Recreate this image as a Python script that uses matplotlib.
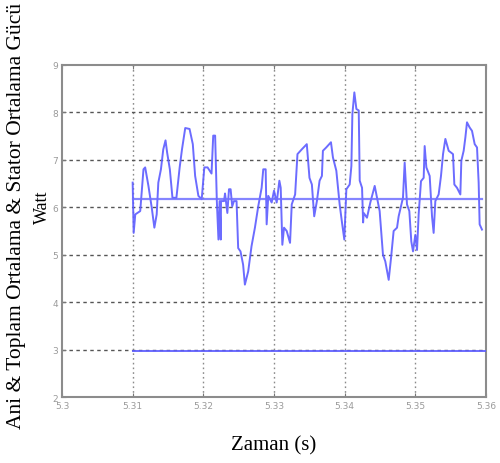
import matplotlib
matplotlib.use("Agg")
import matplotlib.pyplot as plt
import numpy as np

# time offsets in ms after 5.31 s
t_ms = [0, 0.14, 0.37, 1.07, 1.53, 1.77, 2.23, 2.70, 3.07, 3.40, 3.63, 4.0, 4.33, 4.65, 4.88,
        5.26, 5.63, 6.19, 6.65, 6.98, 7.44, 8.05, 8.51, 8.84, 9.30, 9.77, 10.14, 10.60, 11.16,
        11.40, 11.67, 11.91, 12.14, 12.30, 12.47, 12.50, 12.93, 13.07, 13.40, 13.63, 13.86, 14.09,
        14.33, 14.70, 14.93, 15.26, 15.63, 15.88, 16.35, 16.82, 17.30, 17.77, 18.25, 18.48,
        18.82, 18.96, 19.19, 19.67, 20.0, 20.38, 20.76, 20.95, 21.18, 21.42, 21.80, 22.27,
        22.51, 22.99, 23.32, 23.93, 24.64, 25.02, 25.36, 25.69, 26.07, 26.45, 26.78, 26.92,
        27.39, 28.06, 28.34, 28.82, 29.29, 29.62, 29.95, 30.24, 30.71, 30.95, 31.09, 31.37,
        31.66, 31.99, 32.13, 32.46, 32.61, 32.69, 33.16, 33.63, 34.25, 34.58, 34.95, 35.42,
        35.75, 36.23, 36.56, 36.93, 37.41, 37.64, 37.97, 38.25, 38.49, 38.82, 39.15, 39.43,
        39.67, 40.0, 40.24, 40.47, 40.80, 41.18, 41.32, 41.56, 42.03, 42.36, 42.59, 42.83,
        43.30, 43.63, 43.92, 44.25, 44.72, 45.33, 45.52, 45.90, 46.37, 46.51, 46.84, 47.08,
        47.31, 47.69, 48.02, 48.40, 48.73, 48.96, 49.10, 49.43]
power = [6.52, 5.46, 5.85, 5.92, 6.80, 6.84, 6.45, 5.99, 5.57, 5.85, 6.52, 6.80, 7.22, 7.41, 7.15,
         6.80, 6.20, 6.20, 6.84, 7.22, 7.67, 7.65, 7.33, 6.66, 6.24, 6.17, 6.84, 6.84, 6.71,
         7.51, 7.51, 6.13, 5.32, 6.13, 5.32, 6.13, 6.13, 6.29, 5.88, 6.38, 6.38, 6.02,
         6.13, 6.13, 5.14, 5.07, 4.79, 4.37, 4.65, 5.18, 5.57, 6.02, 6.41, 6.80,
         6.80, 5.64, 6.24, 6.10, 6.35, 6.10, 6.56, 6.41, 5.21, 5.57, 5.50, 5.25,
         6.06, 6.27, 7.12, 7.22, 7.33, 6.62, 6.48, 5.81, 6.13, 6.56, 6.66, 7.19,
         7.26, 7.37, 7.05, 6.77, 6.06, 5.68, 5.32, 6.38, 6.48, 6.87, 7.96, 8.42,
         8.07, 8.04, 6.56, 6.41, 5.68, 5.88, 5.78, 6.10, 6.45, 6.20, 5.92, 5.00,
         4.86, 4.47, 4.93, 5.50, 5.57, 5.81, 6.02, 6.20, 6.94, 6.06, 5.92, 5.28,
         5.07, 5.42, 5.10, 5.85, 6.55, 6.62, 7.29, 6.84, 6.66, 5.81, 5.46, 6.13,
         6.27, 6.66, 7.12, 7.44, 7.19, 7.12, 6.48, 6.41, 6.27, 6.98, 7.19, 7.47,
         7.79, 7.68, 7.61, 7.33, 7.26, 6.52, 5.64, 5.53]
mean_total = 6.17
mean_stator = 2.97
t_start = 5.31
t_mean_end = 5.3595
t_stator_end = 5.36

x_ticks = [5.30, 5.31, 5.32, 5.33, 5.34, 5.35, 5.36]
x_tick_labels = ["5.3", "5.31", "5.32", "5.33", "5.34", "5.35", "5.36"]
y_ticks = [2, 3, 4, 5, 6, 7, 8, 9]

t = t_start + np.array(t_ms) / 1000.0

fig = plt.figure(figsize=(5.0, 4.64), dpi=100)
ax = fig.add_axes([0.124, 0.142, 0.848, 0.716])

ax.plot(t, power, color="#5c5cff", lw=1.4, alpha=0.9, zorder=3)
ax.plot([t_start, t_mean_end], [mean_total, mean_total], color="#7070ff", lw=1.6, alpha=0.85, zorder=3)
ax.plot([t_start, t_stator_end], [mean_stator, mean_stator], color="#5c5cff", lw=1.4, alpha=0.9, zorder=3)

ax.set_xlim(5.30, 5.36)
ax.set_ylim(2, 9)
ax.set_xticks(x_ticks)
ax.set_xticklabels(x_tick_labels)
ax.set_yticks(y_ticks)
ax.set_yticklabels([str(v) for v in y_ticks])

for x in x_ticks[1:-1]:
    ax.axvline(x, color="#8a8a8a", lw=1.0, ls=(0, (1.2, 2.2)), zorder=1)
for y in y_ticks[1:-1]:
    ax.axhline(y, color="#555555", lw=1.0, ls=(0, (2.5, 2.5)), zorder=1)

for s in ax.spines.values():
    s.set_color("#8c8c8c")
    s.set_linewidth(1.5)

ax.tick_params(direction="in", length=3, width=0.8, color="#777777",
               labelsize=6.5, labelcolor="#9a9a9a", top=True, right=False, pad=3)

fig.text(0.547, 0.039, "Zaman (s)", family="Liberation Serif", fontsize=15,
         ha="center", va="center")
fig.text(0.034, 0.534, "Ani & Toplam Ortalama & Stator Ortalama Gücü", rotation=90,
         family="Liberation Serif", fontsize=15.5, ha="center", va="center")
fig.text(0.084, 0.554, "Watt", rotation=90, family="Liberation Serif", fontsize=13,
         ha="center", va="center")

fig.savefig("out.png", dpi=100)
